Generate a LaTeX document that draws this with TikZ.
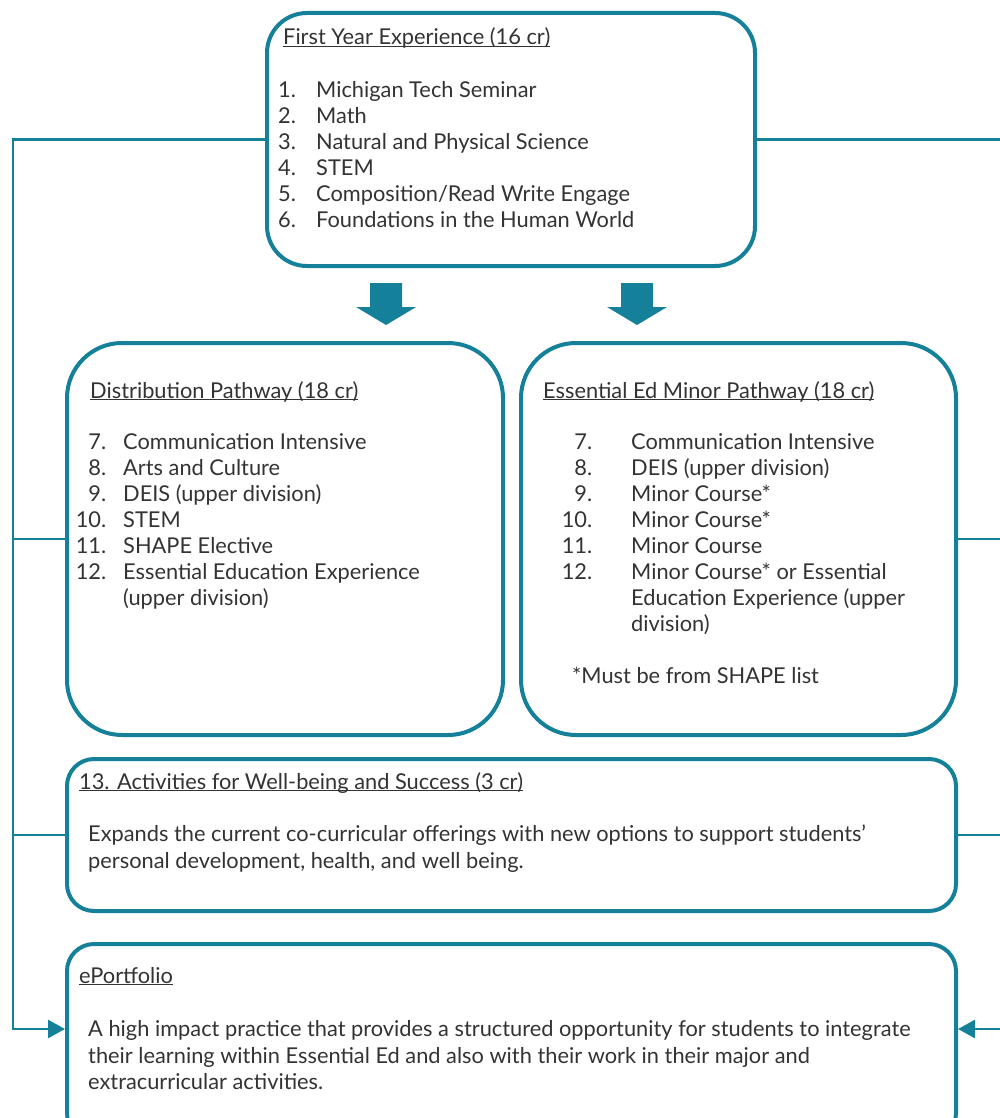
\documentclass[tikz,border=0pt]{standalone}
\usepackage{fontspec}
\setmainfont{Lato}
\usetikzlibrary{arrows.meta, positioning, calc}
\definecolor{tealline}{HTML}{15809A}
\definecolor{bodytext}{HTML}{333333}
\tikzstyle{arrow} = [line width=2.6pt, draw=tealline, -{Triangle[length=17pt,width=18pt]}]
\tikzstyle{link} = [line width=2.6pt, draw=tealline]
\tikzstyle{panel} = [rectangle, draw=tealline, line width=4pt, inner sep=0pt]
\tikzstyle{heading} = [anchor=base west, inner sep=0pt, text=bodytext, font=\fontsize{21.8}{26}\selectfont]
\tikzstyle{listing} = [anchor=north west, yshift=18pt, inner sep=0pt, align=left, text=bodytext, font=\fontsize{21.8}{26}\selectfont]
\tikzstyle{para} = [anchor=north west, yshift=18pt, inner sep=0pt, align=left, text=bodytext, font=\fontsize{21.8}{26.8}\selectfont]
\newcommand{\numcol}[3]{\makebox[#1][r]{#3}\hspace{#2}}
\newcommand{\uhead}[1]{\underline{\smash{#1}}}
\newcommand{\topstrut}{\rule{0pt}{18pt}}
\tikzset{
	bigdown/.pic = {
		\fill[tealline] (-16,0) -- (16,0) -- (16,24) -- (30,24) -- (0,42)
			-- (-30,24) -- (-16,24) -- cycle;
	}
}

\begin{document}
\begin{tikzpicture}[x=1pt, y=-1pt]
\useasboundingbox (0,0) rectangle (999,1118);
% Placement of boxes
\node (fye) [panel, rounded corners=40pt, minimum width=488pt, minimum height=253pt] at (511,139.5) {};
\node (dist) [panel, rounded corners=55pt, minimum width=436pt, minimum height=392pt] at (285,539) {};
\node (minor) [panel, rounded corners=55pt, minimum width=435pt, minimum height=392pt] at (738.5,539) {};
\node (act) [panel, rounded corners=27pt, minimum width=889pt, minimum height=152pt] at (511.5,835) {};
\node (port) [panel, rounded corners=27pt, minimum width=889pt, minimum height=196pt] at (511.5,1042) {};

% Block arrows
\pic at (386,283) {bigdown};
\pic at (637,283) {bigdown};

% Texts
\node (fyeHead) [heading] at (283,45) {\uhead{First Year Experience (16 cr)}};
\node (fyeList) [listing] at (278,97) {\topstrut\makebox[38pt][l]{1.}Michigan Tech Seminar\\
	\makebox[38pt][l]{2.}Math\\
	\makebox[38pt][l]{3.}Natural and Physical Science\\
	\makebox[38pt][l]{4.}STEM\\
	\makebox[38pt][l]{5.}Composition/Read Write Engage\\
	\makebox[38pt][l]{6.}Foundations in the Human World};

\node (distHead) [heading] at (90,398) {\uhead{Distribution Pathway (18 cr)}};
\node (distList) [listing] at (75,449) {\topstrut\numcol{31pt}{17pt}{7.}Communication Intensive\\
	\numcol{31pt}{17pt}{8.}Arts and Culture\\
	\numcol{31pt}{17pt}{9.}DEIS (upper division)\\
	\numcol{31pt}{17pt}{10.}STEM\\
	\numcol{31pt}{17pt}{11.}SHAPE Elective\\
	\numcol{31pt}{17pt}{12.}Essential Education Experience\\
	\hspace*{48pt}(upper division)};

\node (minorHead) [heading] at (543,398) {\uhead{Essential Ed Minor Pathway (18 cr)}};
\node (minorList) [listing] at (560,449) {\topstrut\numcol{32pt}{39pt}{7.}Communication Intensive\\
	\numcol{32pt}{39pt}{8.}DEIS (upper division)\\
	\numcol{32pt}{39pt}{9.}Minor Course*\\
	\numcol{32pt}{39pt}{10.}Minor Course*\\
	\numcol{32pt}{39pt}{11.}Minor Course\\
	\numcol{32pt}{39pt}{12.}Minor Course* or Essential\\
	\hspace*{71pt}Education Experience (upper\\
	\hspace*{71pt}division)};
\node (minorNote) [heading] at (572,683) {*Must be from SHAPE list};

\node (actHead) [heading] at (79,789) {\uhead{13. Activities for Well-being and Success (3 cr)}};
\node (actText) [para] at (88,841) {\topstrut Expands the current co-curricular offerings with new options to support students'\\
	personal development, health, and well being.};

\node (portHead) [heading] at (79,983) {\uhead{ePortfolio}};
\node (portText) [para] at (88,1036) {\topstrut A high impact practice that provides a structured opportunity for students to integrate\\
	their learning within Essential Ed and also with their work in their major and\\
	extracurricular activities.};

% Rails
\coordinate (railL) at (13,1029);
\coordinate (railR) at (1012,1029);

% Placement of edges
\draw [arrow] (fye.west) -| (railL) -- (railL -| port.west);
\draw [link] (dist.west) -- (dist.west -| railL);
\draw [link] (act.west) -- (act.west -| railL);

\draw [arrow] (fye.east) -| (railR) -- (railR -| port.east);
\draw [link] (minor.east) -- (minor.east -| railR);
\draw [link] (act.east) -- (act.east -| railR);

\end{tikzpicture}
\end{document}
